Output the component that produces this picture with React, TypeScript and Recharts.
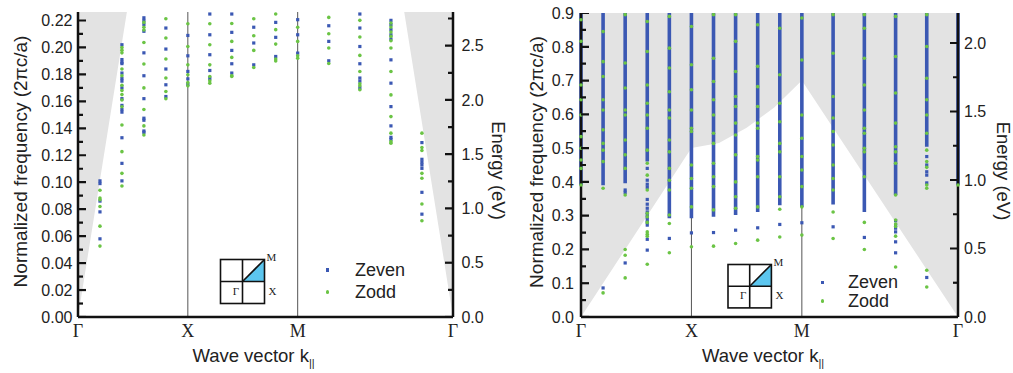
import React from 'react';
import { ComposedChart, Scatter, Area, Line, XAxis, YAxis, ReferenceLine, Legend } from 'recharts';

const FONT = '"Liberation Sans", Arial, Helvetica, sans-serif';
const SERIF = '"Liberation Serif", "Times New Roman", Times, serif';
const BLUE = '#3b58b3';
const GREEN = '#6bc445';
const CONE = '#e3e3e3';
const INK = '#222';

// path Γ-X-M-Γ : Γ-X and X-M have length 1, M-Γ has length √2
const K_MAX = 3.414;
const K_TICKS = [0, 1, 2, 3.414];
const K_LABELS = ['Γ', 'X', 'M', 'Γ'];

// ---------- left panel ----------
const L_FREQ_MAX = 0.2263;
const L_ENERGY_MAX = 2.81;
const L_FREQ_MAJOR = [0, 0.02, 0.04, 0.06, 0.08, 0.1, 0.12, 0.14, 0.16, 0.18, 0.2, 0.22];
const L_FREQ_MINOR = [0.01, 0.03, 0.05, 0.07, 0.09, 0.11, 0.13, 0.15, 0.17, 0.19, 0.21];
const L_ENERGY_MAJOR = [0, 0.5, 1, 1.5, 2, 2.5];
const L_ENERGY_MINOR = [0.25, 0.75, 1.25, 1.75, 2.25, 2.75];

const L_K = [0.2, 0.4, 0.6, 0.8, 1.0, 1.2, 1.4, 1.6, 1.8, 2.0, 2.283, 2.566, 2.849, 3.131];
const L_ZEVEN = [
  [0.101, 0.099, 0.086, 0.078, 0.058],
  [0.202, 0.191, 0.189, 0.188, 0.181, 0.177, 0.175, 0.17, 0.162, 0.157, 0.154, 0.152, 0.133, 0.114, 0.101],
  [0.222, 0.22, 0.217, 0.212, 0.196, 0.179, 0.162, 0.1475, 0.146, 0.138, 0.137],
  [0.2144, 0.1988, 0.184, 0.1723, 0.1636],
  [0.2089, 0.1938, 0.1822, 0.1767, 0.1725],
  [0.2248, 0.2094, 0.1946, 0.1829, 0.177],
  [0.2248, 0.2112, 0.1978, 0.1879, 0.181],
  [0.215, 0.2033, 0.1871],
  [0.2186, 0.2075, 0.1933],
  [0.2206, 0.2094, 0.1958],
  [0.2161, 0.2045, 0.1901],
  [0.2248, 0.2144, 0.2007, 0.1879, 0.1773, 0.175, 0.17],
  [0.2201, 0.2169, 0.2132, 0.2094, 0.2062, 0.1908, 0.1735, 0.1561, 0.1418, 0.1333, 0.1318],
  [0.1294, 0.117, 0.1148, 0.1128, 0.1103, 0.0925, 0.0763],
];
const L_ZODD = [
  [0.094, 0.0883, 0.087, 0.082, 0.0674, 0.0526],
  [0.2, 0.198, 0.196, 0.184, 0.179, 0.172, 0.168, 0.165, 0.161, 0.156, 0.1425, 0.1227, 0.1066, 0.0972],
  [0.2186, 0.215, 0.213, 0.2037, 0.1877, 0.17, 0.154, 0.1418, 0.135],
  [0.2213, 0.207, 0.1914, 0.1773, 0.1673, 0.1619],
  [0.2176, 0.2007, 0.1871, 0.1797, 0.174, 0.1715],
  [0.2176, 0.202, 0.1871, 0.1784, 0.1752, 0.1735],
  [0.2178, 0.2045, 0.1926, 0.179, 0.1785],
  [0.2213, 0.2087, 0.1978, 0.1851],
  [0.2248, 0.2132, 0.2025, 0.1914, 0.19],
  [0.215, 0.2045, 0.1938, 0.192],
  [0.2223, 0.2102, 0.1996, 0.1881],
  [0.2201, 0.2077, 0.1941, 0.1822, 0.173, 0.1715, 0.1686],
  [0.2181, 0.2151, 0.2114, 0.2082, 0.205, 0.1996, 0.1822, 0.1648, 0.1487, 0.1364, 0.1301, 0.129],
  [0.1364, 0.1257, 0.1235, 0.1066, 0.1029, 0.0838, 0.0714],
];
// light line (above it is shaded)
const L_CONE_K = [0, 0.445, 2.97, 3.414];
const L_CONE_F = [0, 0.2263, 0.2263, 0];

// ---------- right panel ----------
const R_FREQ_MAX = 0.9;
const R_ENERGY_MAX = 2.219;
const R_FREQ_MAJOR = [0, 0.1, 0.2, 0.3, 0.4, 0.5, 0.6, 0.7, 0.8, 0.9];
const R_FREQ_MINOR = [0.05, 0.15, 0.25, 0.35, 0.45, 0.55, 0.65, 0.75, 0.85];
const R_ENERGY_MAJOR = [0, 0.5, 1, 1.5, 2];
const R_ENERGY_MINOR = [0.25, 0.75, 1.25, 1.75];

const R_K = [0, 0.2, 0.4, 0.6, 0.8, 1.0, 1.2, 1.4, 1.6, 1.8, 2.0, 2.283, 2.566, 2.849, 3.131, 3.414];
// lower edge of the dense continuum of modes in each column (continuum runs up to the top)
const R_BAND_LOW = [0.39, 0.39, 0.396, 0.46, 0.292, 0.292, 0.297, 0.302, 0.311, 0.331, 0.326, 0.333, 0.311, 0.361, 0.504, 0.391];
const R_ZEVEN = [
  [],
  [0.086],
  [0.376, 0.369, 0.16],
  [0.44, 0.405, 0.393, 0.384, 0.348, 0.334, 0.322, 0.311, 0.303, 0.295, 0.287, 0.28, 0.272, 0.23, 0.198],
  [0.2326],
  [0.249],
  [0.25],
  [0.257],
  [0.264],
  [0.274],
  [0.279],
  [0.267],
  [0.2355],
  [0.285, 0.272, 0.263, 0.252, 0.2225, 0.19],
  [0.475, 0.45, 0.43, 0.42, 0.397, 0.117],
  [],
];
const R_ZODD = [
  [0.88, 0.816, 0.687, 0.643, 0.598, 0.534, 0.4995, 0.465, 0.44, 0.391],
  [0.845, 0.756, 0.712, 0.643, 0.613, 0.554, 0.514, 0.494, 0.46, 0.381, 0.0713],
  [0.895, 0.752, 0.678, 0.613, 0.598, 0.524, 0.48, 0.44, 0.361, 0.2, 0.183, 0.1157],
  [0.875, 0.786, 0.687, 0.633, 0.598, 0.559, 0.494, 0.455, 0.42, 0.376, 0.307, 0.297, 0.28, 0.252, 0.245, 0.239, 0.156],
  [0.89, 0.796, 0.737, 0.667, 0.613, 0.589, 0.524, 0.489, 0.44, 0.405, 0.376, 0.302, 0.277, 0.19],
  [0.86, 0.747, 0.673, 0.613, 0.559, 0.549, 0.45, 0.41, 0.381, 0.326, 0.2077],
  [0.895, 0.766, 0.697, 0.643, 0.598, 0.544, 0.514, 0.455, 0.415, 0.386, 0.317, 0.2097],
  [0.895, 0.816, 0.727, 0.653, 0.623, 0.574, 0.539, 0.48, 0.4, 0.356, 0.322, 0.2177],
  [0.865, 0.742, 0.682, 0.623, 0.574, 0.559, 0.475, 0.465, 0.415, 0.326, 0.2275],
  [0.855, 0.717, 0.633, 0.578, 0.514, 0.489, 0.415, 0.356, 0.319, 0.237],
  [0.885, 0.761, 0.598, 0.529, 0.475, 0.435, 0.386, 0.326, 0.2424],
  [0.895, 0.781, 0.653, 0.589, 0.549, 0.509, 0.45, 0.41, 0.376, 0.311, 0.2326],
  [0.895, 0.855, 0.766, 0.687, 0.613, 0.559, 0.544, 0.4995, 0.489, 0.415, 0.28, 0.2],
  [0.89, 0.771, 0.663, 0.574, 0.504, 0.489, 0.455, 0.361, 0.287, 0.275, 0.268, 0.2394, 0.148],
  [0.895, 0.801, 0.707, 0.643, 0.598, 0.544, 0.494, 0.46, 0.443, 0.391, 0.381, 0.1385, 0.089],
  [0.391],
];
const R_CONE_K = [0, 1, 1.25, 1.5, 1.75, 2, 3.414];
const R_CONE_F = [0, 0.5, 0.515, 0.56, 0.62, 0.7, 0];

const MAJOR_LEN = 8;
const MINOR_LEN = 5;

// tick labels only; the inward tick marks are drawn by the tick scatters so they sit above the shading
const FreqLabel = (props: any) => (
  <text x={props.x} y={props.y} dy="0.36em" textAnchor="end" fontFamily={FONT} fontSize={16} fill={INK}>
    {props.payload.value.toFixed(props.digits)}
  </text>
);
const EnergyLabel = (props: any) => (
  <text x={props.x} y={props.y} dy="0.36em" textAnchor="start" fontFamily={FONT} fontSize={16} fill={INK}>
    {props.payload.value.toFixed(1)}
  </text>
);

// inward tick mark; dir = +1 from the left frame, -1 from the right frame
const TickMark = (dir: number) => (sp: any) => (
  <line x1={sp.cx} x2={sp.cx + dir * ((sp.payload && sp.payload.len) || MINOR_LEN)} y1={sp.cy} y2={sp.cy} stroke="#111" strokeWidth={2.2} />
);

const Square = (p: any) => <rect x={p.cx - 1.6} y={p.cy - 1.6} width={3.2} height={3.2} fill={BLUE} />;
const Dot = (p: any) => <circle cx={p.cx} cy={p.cy} r={1.8} fill={GREEN} />;

const legendContent = (gap: number, rowH: number) => (lp: any) => (
  <div style={{ fontFamily: FONT, fontSize: 18, color: INK }}>
    {(lp.payload || [])
      .filter((e: any) => e.value === 'Zeven' || e.value === 'Zodd')
      .map((e: any) => (
        <div key={e.value} style={{ display: 'flex', alignItems: 'center', height: rowH }}>
          <span
            style={{
              display: 'inline-block',
              width: 3.4,
              height: 3.4,
              background: e.color,
              borderRadius: e.type === 'circle' ? '50%' : 0,
              marginRight: gap,
            }}
          />
          <span style={{ lineHeight: 1 }}>{e.value}</span>
        </div>
      ))}
  </div>
);

function Panel(p: any) {
  const evenData = p.k.flatMap((k: number, i: number) => p.zeven[i].map((f: number) => ({ k, f })));
  const oddData = p.k.flatMap((k: number, i: number) => p.zodd[i].map((f: number) => ({ k, f })));
  const coneData = p.coneK.map((k: number, i: number) => ({ k, lo: p.coneF[i], hi: p.freqMax }));
  const bandData = p.band
    ? p.k.flatMap((k: number, i: number) => [{ k, f: p.band[i] }, { k, f: p.freqMax }, { k, f: null }])
    : [];
  const freqTicks = [
    ...p.freqMajor.map((f: number) => ({ k: 0, f, len: MAJOR_LEN })),
    ...p.freqMinor.map((f: number) => ({ k: 0, f, len: MINOR_LEN })),
  ];
  const energyTicks = [
    ...p.energyMajor.map((e: number) => ({ k: K_MAX, e, len: MAJOR_LEN })),
    ...p.energyMinor.map((e: number) => ({ k: K_MAX, e, len: MINOR_LEN })),
  ];
  const frame = { stroke: '#111', strokeWidth: 2.5 };

  return (
    <div style={{ position: 'absolute', left: p.left, top: 0 }}>
      <ComposedChart width={510} height={373} margin={p.margin}>
        <Area
          xAxisId="k"
          yAxisId="f"
          data={coneData}
          dataKey={(d: any) => [d.lo, d.hi]}
          type="linear"
          stroke="none"
          fill={CONE}
          fillOpacity={1}
          legendType="none"
          isAnimationActive={false}
        />
        <ReferenceLine xAxisId="k" yAxisId="f" x={1} stroke="#555" strokeWidth={1} />
        <ReferenceLine xAxisId="k" yAxisId="f" x={2} stroke="#555" strokeWidth={1} />
        {p.band && (
          <Line
            xAxisId="k"
            yAxisId="f"
            data={bandData}
            dataKey="f"
            stroke={BLUE}
            strokeWidth={3.6}
            dot={false}
            activeDot={false}
            connectNulls={false}
            legendType="none"
            isAnimationActive={false}
          />
        )}
        <Scatter name="Zeven" xAxisId="k" yAxisId="f" data={evenData} dataKey="f" fill={BLUE} shape={Square} legendType="square" isAnimationActive={false} />
        <Scatter name="Zodd" xAxisId="k" yAxisId="f" data={oddData} dataKey="f" fill={GREEN} shape={Dot} legendType="circle" isAnimationActive={false} />
        <Scatter name="freqTicks" xAxisId="k" yAxisId="f" data={freqTicks} dataKey="f" fill={INK} shape={TickMark(1)} legendType="none" isAnimationActive={false} />
        <Scatter name="energyTicks" xAxisId="k" yAxisId="e" data={energyTicks} dataKey="e" fill={INK} shape={TickMark(-1)} legendType="none" isAnimationActive={false} />
        <XAxis
          xAxisId="k"
          dataKey="k"
          type="number"
          domain={[0, K_MAX]}
          ticks={K_TICKS}
          interval={0}
          tickFormatter={(_v: number, i: number) => K_LABELS[i]}
          tickLine={false}
          tickSize={0}
          tickMargin={7}
          height={30}
          axisLine={frame}
          tick={{ fontFamily: SERIF, fontSize: 18, fill: INK }}
          label={{
            content: (lp: any) => {
              const vb = lp.viewBox || { x: 0, y: 0, width: 0, height: 0 };
              return (
                <text x={vb.x + vb.width / 2 + p.kTitleDx} y={vb.y + 44.5} textAnchor="middle" fontFamily={FONT} fontSize={18.5} fill={INK}>
                  Wave vector k
                  <tspan fontSize={11} dy={5}>||</tspan>
                </text>
              );
            },
          }}
        />
        <XAxis xAxisId="top" orientation="top" type="number" domain={[0, K_MAX]} height={0} tick={false} tickLine={false} axisLine={frame} />
        <YAxis
          yAxisId="f"
          type="number"
          domain={[0, p.freqMax]}
          allowDataOverflow
          ticks={p.freqMajor}
          interval={0}
          width={78}
          tickLine={false}
          tickSize={0}
          tickMargin={p.freqGap}
          axisLine={frame}
          tick={(tp: any) => <FreqLabel {...tp} digits={p.freqDigits} />}
          label={{
            content: (lp: any) => {
              const vb = lp.viewBox || { x: 0, y: 0, width: 0, height: 0 };
              const x = vb.x + p.freqTitleX;
              const y = vb.y + vb.height / 2 - 3;
              return (
                <text x={x} y={y} transform={`rotate(-90 ${x} ${y})`} textAnchor="middle" dominantBaseline="central" fontFamily={FONT} fontSize={19} fill={INK}>
                  Normalized frequency (2πc/a)
                </text>
              );
            },
          }}
        />
        <YAxis
          yAxisId="e"
          orientation="right"
          type="number"
          domain={[0, p.energyMax]}
          allowDataOverflow
          ticks={p.energyMajor}
          interval={0}
          width={50}
          tickLine={false}
          tickSize={0}
          tickMargin={p.energyGap}
          axisLine={frame}
          tick={(tp: any) => <EnergyLabel {...tp} />}
          label={{
            content: (lp: any) => {
              const vb = lp.viewBox || { x: 0, y: 0, width: 0, height: 0 };
              const x = vb.x + 45;
              const y = vb.y + vb.height / 2 + 6;
              return (
                <text x={x} y={y} transform={`rotate(90 ${x} ${y})`} textAnchor="middle" dominantBaseline="central" fontFamily={FONT} fontSize={18.5} fill={INK}>
                  Energy (eV)
                </text>
              );
            },
          }}
        />
        <Legend
          layout="vertical"
          align="center"
          verticalAlign="middle"
          wrapperStyle={{ left: p.legendLeft, top: p.legendTop, width: 140 }}
          content={legendContent(p.legendGap, p.legendRow)}
        />
      </ComposedChart>
    </div>
  );
}

function Inset({ x, y, s }: { x: number; y: number; s: number }) {
  return (
    <g>
      <polygon points={`${x + s},${y + s} ${x + 2 * s},${y} ${x + 2 * s},${y + s}`} fill="#5cc6ef" />
      <rect x={x} y={y} width={2 * s} height={2 * s} fill="none" stroke="#111" strokeWidth={1.6} />
      <line x1={x + s} x2={x + s} y1={y} y2={y + 2 * s} stroke="#111" strokeWidth={1.6} />
      <line x1={x} x2={x + 2 * s} y1={y + s} y2={y + s} stroke="#111" strokeWidth={1.6} />
      <line x1={x + s} x2={x + 2 * s} y1={y + s} y2={y} stroke="#111" strokeWidth={1.6} />
      <text x={x + 2 * s + 7} y={y - 3} textAnchor="middle" dominantBaseline="central" fontFamily={SERIF} fontSize={11} fill={INK}>M</text>
      <text x={x + 2 * s + 8} y={y + s + 9} textAnchor="middle" dominantBaseline="central" fontFamily={SERIF} fontSize={11} fill={INK}>X</text>
      <text x={x + s - 6.5} y={y + s + 9} textAnchor="middle" dominantBaseline="central" fontFamily={SERIF} fontSize={11} fill={INK}>Γ</text>
    </g>
  );
}

export default function App() {
  return (
    <div style={{ position: 'absolute', left: 0, top: 0, width: 1013, height: 373, background: '#fff', overflow: 'hidden' }}>
      <Panel
        left={0}
        margin={{ top: 12, right: 7, bottom: 26, left: 0 }}
        k={L_K}
        zeven={L_ZEVEN}
        zodd={L_ZODD}
        coneK={L_CONE_K}
        coneF={L_CONE_F}
        freqMax={L_FREQ_MAX}
        freqMajor={L_FREQ_MAJOR}
        freqMinor={L_FREQ_MINOR}
        freqDigits={2}
        freqGap={5.5}
        freqTitleX={20.5}
        energyMax={L_ENERGY_MAX}
        energyMajor={L_ENERGY_MAJOR}
        energyMinor={L_ENERGY_MINOR}
        energyGap={8.4}
        kTitleDx={-12}
        legendLeft={326}
        legendTop={259}
        legendGap={25.6}
        legendRow={22}
      />
      <Panel
        left={503}
        margin={{ top: 13, right: 5, bottom: 26, left: 0 }}
        k={R_K}
        zeven={R_ZEVEN}
        zodd={R_ZODD}
        band={R_BAND_LOW}
        coneK={R_CONE_K}
        coneF={R_CONE_F}
        freqMax={R_FREQ_MAX}
        freqMajor={R_FREQ_MAJOR}
        freqMinor={R_FREQ_MINOR}
        freqDigits={1}
        freqGap={7}
        freqTitleX={33.5}
        energyMax={R_ENERGY_MAX}
        energyMajor={R_ENERGY_MAJOR}
        energyMinor={R_ENERGY_MINOR}
        energyGap={6}
        kTitleDx={-6.5}
        legendLeft={318}
        legendTop={273}
        legendGap={23.6}
        legendRow={18.7}
      />
      <svg width={1013} height={373} style={{ position: 'absolute', left: 0, top: 0, pointerEvents: 'none' }}>
        <Inset x={220.5} y={259.5} s={22} />
        <Inset x={728} y={264.5} s={21.7} />
      </svg>
    </div>
  );
}
